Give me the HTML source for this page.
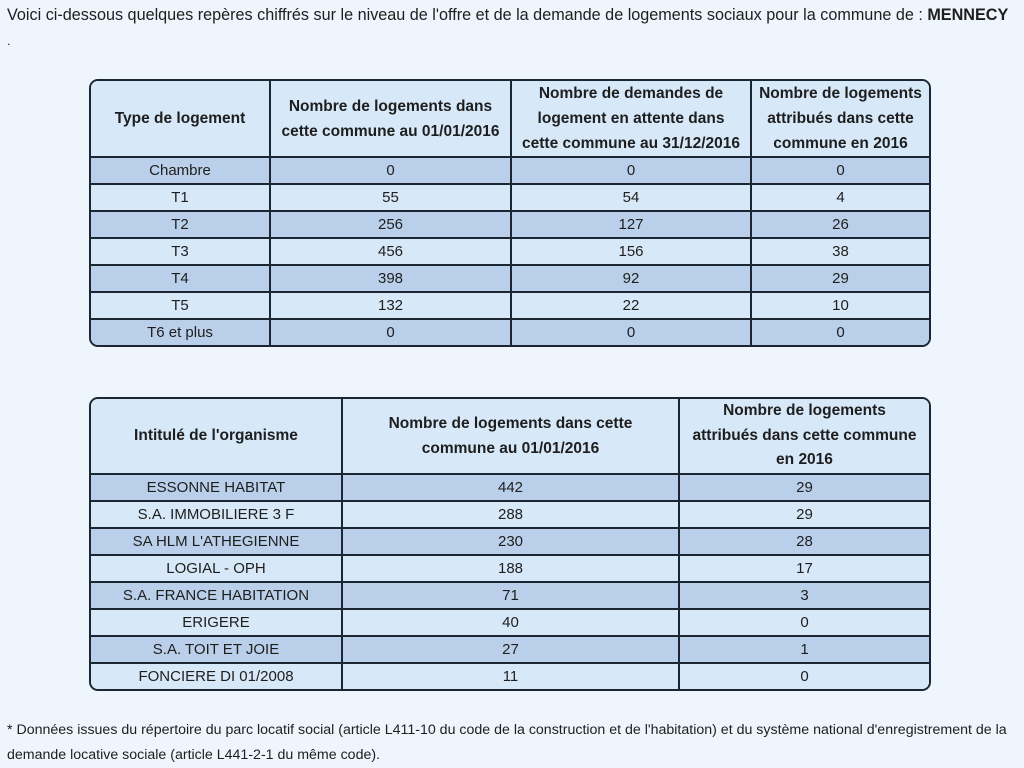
<!DOCTYPE html>
<html><head><meta charset="utf-8"><style>
body{margin:0;background:#eef5fc;font-family:"Liberation Sans",Arial,sans-serif;color:#1e1e1e;width:1024px;height:765px;overflow:hidden;position:relative}
.p{position:absolute;left:7px;font-size:14.5px}
.w{position:absolute;left:89px;width:838px;border:2px solid #1c2633;border-radius:9px;overflow:hidden;background:#d7e8f8}
table{border-collapse:collapse;width:100%;table-layout:fixed}
td,th{border:2px solid #1c2633;text-align:center;font-size:15px;padding:0;height:25px;line-height:25px}
th{font-weight:bold;line-height:25px;background:#d7e8f8;font-size:15.5px;white-space:nowrap}
tr:first-child th{border-top:none}
tr:last-child td{border-bottom:none}
td:first-child,th:first-child{border-left:none}
td:last-child,th:last-child{border-right:none}
tr.o td{background:#bad0ea}
tr.e td{background:#d7e8f8}
</style></head><body>
<div class="p" style="top:6px;font-size:16.2px;white-space:nowrap">Voici ci-dessous quelques repères chiffrés sur le niveau de l'offre et de la demande de logements sociaux pour la commune de : <b>MENNECY</b></div>
<div class="p" style="top:34px;font-size:12px">.</div>
<div class="w" style="top:79px">
<table>
<colgroup><col style="width:179px"><col style="width:241px"><col style="width:240px"><col></colgroup>
<tr><th style="height:75px">Type de logement</th><th>Nombre de logements dans<br>cette commune au 01/01/2016</th><th>Nombre de demandes de<br>logement en attente dans<br>cette commune au 31/12/2016</th><th>Nombre de logements<br>attribués dans cette<br>commune en 2016</th></tr>
<tr class="o"><td>Chambre</td><td>0</td><td>0</td><td>0</td></tr>
<tr class="e"><td>T1</td><td>55</td><td>54</td><td>4</td></tr>
<tr class="o"><td>T2</td><td>256</td><td>127</td><td>26</td></tr>
<tr class="e"><td>T3</td><td>456</td><td>156</td><td>38</td></tr>
<tr class="o"><td>T4</td><td>398</td><td>92</td><td>29</td></tr>
<tr class="e"><td>T5</td><td>132</td><td>22</td><td>10</td></tr>
<tr class="o"><td>T6 et plus</td><td>0</td><td>0</td><td>0</td></tr>
</table></div>
<div class="w" style="top:397px">
<table>
<colgroup><col style="width:251px"><col style="width:337px"><col></colgroup>
<tr><th style="height:73px;line-height:24.5px">Intitulé de l'organisme</th><th>Nombre de logements dans cette<br>commune au 01/01/2016</th><th style="line-height:24.5px">Nombre de logements<br>attribués dans cette commune<br>en 2016</th></tr>
<tr class="o"><td>ESSONNE HABITAT</td><td>442</td><td>29</td></tr>
<tr class="e"><td>S.A. IMMOBILIERE 3 F</td><td>288</td><td>29</td></tr>
<tr class="o"><td>SA HLM L'ATHEGIENNE</td><td>230</td><td>28</td></tr>
<tr class="e"><td>LOGIAL - OPH</td><td>188</td><td>17</td></tr>
<tr class="o"><td>S.A. FRANCE HABITATION</td><td>71</td><td>3</td></tr>
<tr class="e"><td>ERIGERE</td><td>40</td><td>0</td></tr>
<tr class="o"><td>S.A. TOIT ET JOIE</td><td>27</td><td>1</td></tr>
<tr class="e"><td>FONCIERE DI 01/2008</td><td>11</td><td>0</td></tr>
</table></div>
<div class="p" style="top:718px;font-size:14.2px;line-height:25px;width:1012px">* Données issues du répertoire du parc locatif social (article L411-10 du code de la construction et de l'habitation) et du système national d'enregistrement de la demande locative sociale (article L441-2-1 du même code).</div>
</body></html>
